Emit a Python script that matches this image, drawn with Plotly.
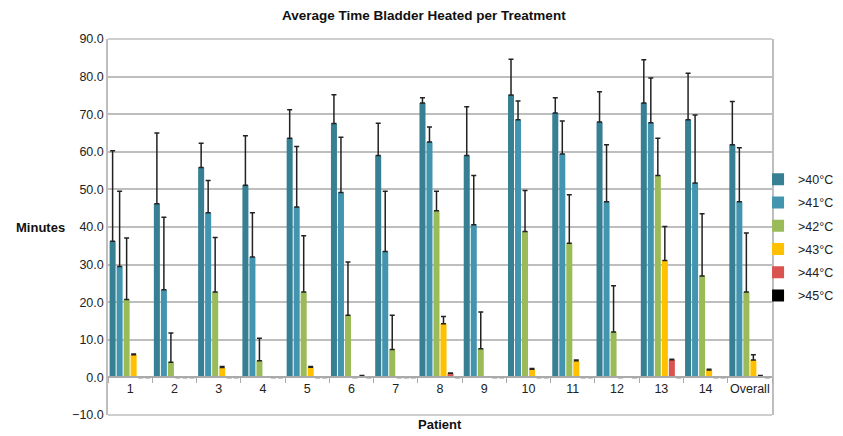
import plotly.graph_objects as go

patients = ["1", "2", "3", "4", "5", "6", "7", "8", "9", "10", "11", "12", "13", "14", "Overall"]
series_names = [">40°C", ">41°C", ">42°C", ">43°C", ">44°C", ">45°C"]

t40 = [36.2, 46.2, 55.8, 51.1, 63.6, 67.5, 59.0, 73.0, 59.0, 75.1, 70.3, 67.9, 73.0, 68.5, 61.9]
t41 = [29.5, 23.3, 43.8, 32.0, 45.3, 49.2, 33.5, 62.6, 40.6, 68.5, 59.4, 46.7, 67.7, 51.7, 46.7]
t42 = [20.7, 4.0, 22.7, 4.4, 22.7, 16.5, 7.4, 44.3, 7.6, 38.8, 35.7, 12.1, 53.7, 27.0, 22.7]
t43 = [6.0, 0.0, 2.6, 0.1, 2.7, 0.0, 0.0, 14.3, 0.1, 2.2, 4.4, 0.0, 31.1, 2.0, 4.6]
t44 = [0.0, 0.0, 0.0, 0.0, 0.0, 0.4, 0.0, 1.1, 0.0, 0.0, 0.0, 0.2, 4.7, 0.0, 0.4]
t45 = [0.0, 0.0, 0.0, 0.0, 0.0, 0.0, 0.0, 0.0, 0.0, 0.0, 0.0, 0.0, 0.0, 0.0, 0.0]

# upper end of the error bars (mean + SD)
u40 = [60.3, 65.0, 62.3, 64.3, 71.2, 75.2, 67.6, 74.4, 72.0, 84.6, 74.4, 76.0, 84.5, 80.9, 73.4]
u41 = [49.5, 42.6, 52.4, 43.8, 61.4, 63.9, 49.5, 66.6, 53.7, 73.5, 68.2, 61.9, 79.6, 69.8, 61.1]
u42 = [37.1, 11.8, 37.2, 10.4, 37.7, 30.7, 16.5, 49.5, 17.4, 49.7, 48.6, 24.4, 63.6, 43.5, 38.4]
u43 = [6.2, 0.0, 2.9, 0.1, 2.9, 0.0, 0.0, 16.2, 0.1, 2.4, 4.6, 0.0, 40.1, 2.2, 6.0]
u44 = [0.0, 0.0, 0.0, 0.0, 0.0, 0.5, 0.0, 1.2, 0.0, 0.0, 0.0, 0.2, 4.8, 0.0, 0.5]
u45 = [0.0, 0.0, 0.0, 0.0, 0.0, 0.0, 0.0, 0.0, 0.0, 0.0, 0.0, 0.0, 0.0, 0.0, 0.0]

colors = ["#377F93", "#4395AF", "#9BBB59", "#FFC000", "#D9534F", "#000000"]

means = [t40, t41, t42, t43, t44, t45]
uppers = [u40, u41, u42, u43, u44, u45]

fig = go.Figure()
for name, m, u, c in zip(series_names, means, uppers, colors):
    plus = [max(ui - mi, 0) for ui, mi in zip(u, m)]
    fig.add_trace(go.Bar(
        x=patients, y=m, name=name, legendgroup=name, marker_color=c, marker_line_width=0,
        error_y=dict(type="data", array=plus, arrayminus=[0] * len(m), symmetric=False,
                     color="#222222", thickness=1.5, width=2.5),
    ))

FONT = "Liberation Sans, Arial, sans-serif"
# the page adds an 8px body margin, so the figure is 8px smaller than the window
fig.update_layout(
    width=835, height=428,
    margin=dict(l=100, r=71, t=31, b=21, autoexpand=False),
    paper_bgcolor="white", plot_bgcolor="white",
    barmode="group", bargap=0.05, bargroupgap=0.14,
    font=dict(family=FONT, size=12, color="#222222"),
    title=dict(text="<b>Average Time Bladder Heated per Treatment</b>", x=0.498, xanchor="center",
               y=0.983, yanchor="middle", font=dict(size=13.5, color="#111111")),
    showlegend=True,
    legend=dict(x=0.979, xanchor="left", y=0.472, yanchor="middle", xref="paper",
                font=dict(size=12.5, color="#222222"), bgcolor="rgba(0,0,0,0)",
                itemwidth=30, tracegroupgap=4),
    xaxis=dict(anchor="free", position=0.1, showline=True, linecolor="#AAAAAA", linewidth=1.5,
               ticks="outside", tickson="boundaries", ticklen=5, tickcolor="#AAAAAA",
               tickangle=0, tickfont=dict(size=12.5, color="#222222"), showgrid=False),
    yaxis=dict(range=[-10, 90], dtick=10, tickformat=".1f", showgrid=True, gridcolor="#BEBEBE",
               gridwidth=1.5, zeroline=False, showline=True, linecolor="#BEBEBE", linewidth=1.5,
               mirror=True, ticks="", tickfont=dict(size=12.5, color="#222222")),
    annotations=[
        dict(text="<b>Minutes</b>", xref="paper", yref="paper", x=-0.102, y=0.5, xanchor="center",
             yanchor="middle", showarrow=False, font=dict(size=13, color="#111111")),
        dict(text="<b>Patient</b>", xref="paper", yref="paper", x=0.5, y=-0.024, xanchor="center",
             yanchor="middle", showarrow=False, font=dict(size=13, color="#111111")),
    ],
)
fig.add_shape(type="line", xref="paper", yref="paper", x0=0, x1=1, y0=1, y1=1,
              line=dict(color="#BEBEBE", width=1.5))
fig.add_shape(type="line", xref="paper", yref="paper", x0=0, x1=1, y0=0, y1=0,
              line=dict(color="#BEBEBE", width=1.5))

fig.write_html("out.html")
